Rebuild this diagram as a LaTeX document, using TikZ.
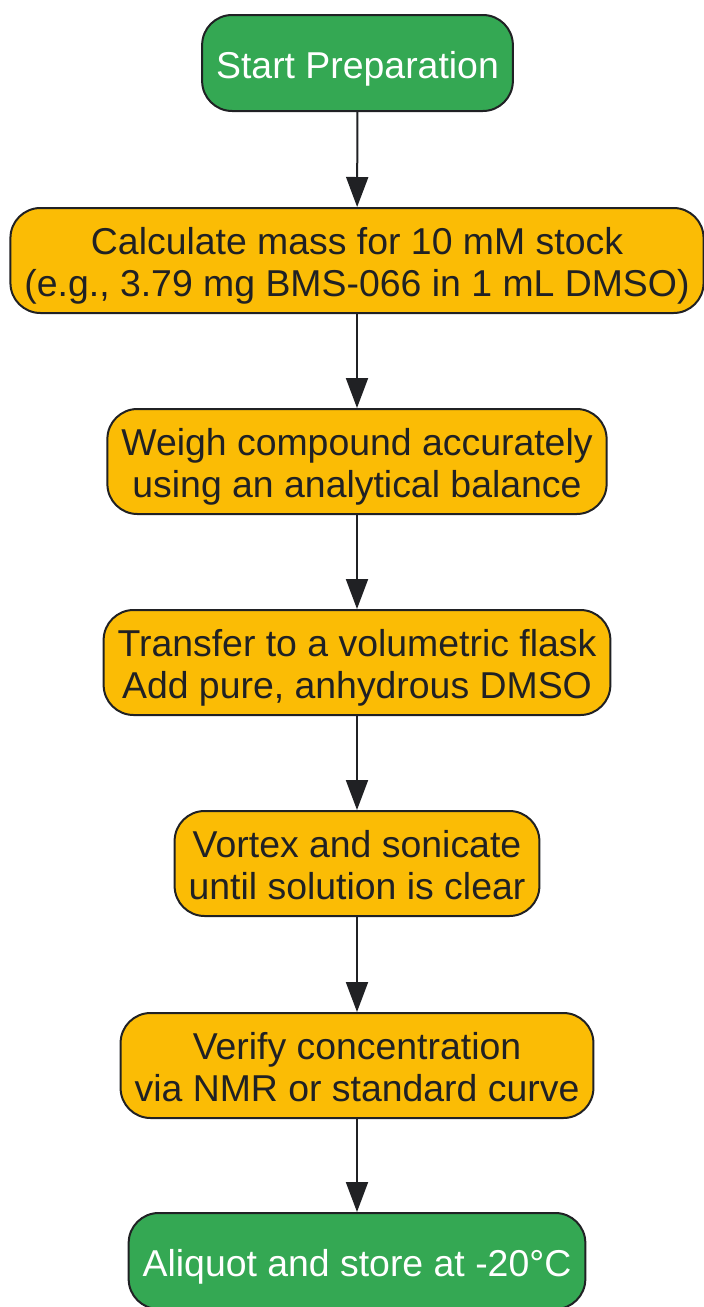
\documentclass[tikz,border=0pt]{standalone}
\usepackage{fontspec}
\setmainfont{Liberation Sans}
\usepackage{tikz}
\usetikzlibrary{arrows.meta}
\definecolor{stepgreen}{HTML}{34A853}
\definecolor{stepyellow}{HTML}{FBBC05}
\definecolor{darkline}{HTML}{202124}
\tikzset{
  box/.style={draw=darkline, line width=1pt, rounded corners=15pt, align=center,
    inner xsep=7pt, inner ysep=2pt, text depth=4pt, font=\fontsize{18.7}{21}\selectfont},
  endbox/.style={box, fill=stepgreen, text=white, minimum height=48pt, text height=19.4pt},
  workbox/.style={box, fill=stepyellow, text=darkline, minimum height=52.5pt, text height=40.4pt},
  flow/.style={draw=darkline, line width=1pt, -{Triangle[length=15pt, width=11pt]}}
}
\begin{document}
\begin{tikzpicture}[x=0.5pt, y=-0.5pt]
        \useasboundingbox (0,0) rectangle (703,1307);
        \node[endbox] (start) at (357.5,63) {Start Preparation};
        \node[workbox] (calc) at (357,260.5) {Calculate mass for 10 mM stock\\(e.g., 3.79 mg BMS-066 in 1 mL DMSO)};
        \node[workbox] (weigh) at (357,461.5) {Weigh compound accurately\\using an analytical balance};
        \node[workbox] (transfer) at (357,662.5) {Transfer to a volumetric flask\\Add pure, anhydrous DMSO};
        \node[workbox] (vortex) at (357,863.5) {Vortex and sonicate\\until solution is clear};
        \node[workbox] (verify) at (357,1065.5) {Verify concentration\\via NMR or standard curve};
        \node[endbox] (store) at (357,1261) {Aliquot and store at -20°C};
        \draw[flow] (start) -- (calc);
        \draw[flow] (calc) -- (weigh);
        \draw[flow] (weigh) -- (transfer);
        \draw[flow] (transfer) -- (vortex);
        \draw[flow] (vortex) -- (verify);
        \draw[flow] (verify) -- (store);
    \end{tikzpicture}
\end{document}
